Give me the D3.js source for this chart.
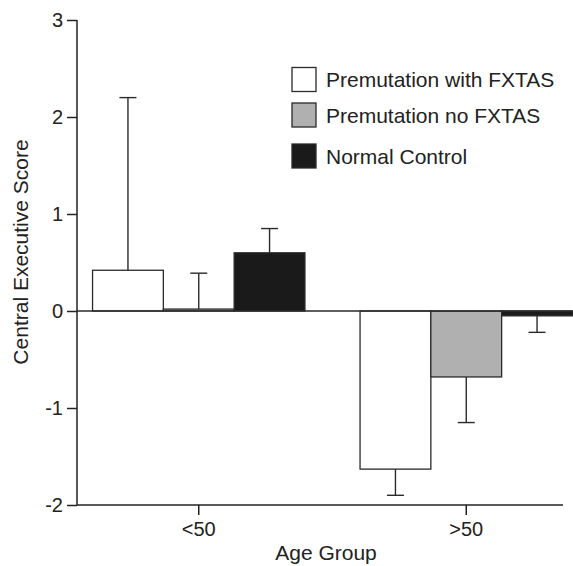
<!DOCTYPE html>
<html>
<head>
<meta charset="utf-8">
<script src="https://cdn.jsdelivr.net/npm/d3@7"></script>
<style>
  body { margin: 0; background: #fff; }
  text { font-family: "Liberation Sans", Arial, sans-serif; fill: #222; }
</style>
</head>
<body>
<div id="chart"></div>
<script>
// Data
const groups = ["<50", ">50"];
const series = ["Premutation with FXTAS", "Premutation no FXTAS", "Normal Control"];
const fills = ["#ffffff", "#b0b0b0", "#1a1a1a"];
const withFxtas = [0.42, -1.63];
const noFxtas = [0.02, -0.68];
const normalControl = [0.60, -0.05];
const withFxtasErr = [1.78, 0.27];
const noFxtasErr = [0.37, 0.47];
const normalControlErr = [0.25, 0.17];
const yTicks = [-2, -1, 0, 1, 2, 3];

const means = [withFxtas, noFxtas, normalControl];
const errs = [withFxtasErr, noFxtasErr, normalControlErr];

const width = 573;
const height = 566;

const svg = d3.select("#chart")
  .append("svg")
  .attr("width", width)
  .attr("height", height);

// Scales
const yScale = d3.scaleLinear().domain([-2, 3]).range([505, 20]);

const x0 = d3.scaleBand()
  .domain(groups)
  .range([65, 600])
  .paddingInner(0.206)
  .paddingOuter(0.103);

const x1 = d3.scaleBand()
  .domain(series)
  .range([0, x0.bandwidth()]);

const axisLeftX = 77;
const axisRightX = 563;

// Flatten to bar records
const bars = [];
groups.forEach((g, gi) => {
  series.forEach((s, si) => {
    bars.push({ group: g, series: s, si, value: means[si][gi], err: errs[si][gi] });
  });
});

// Bars
svg.append("g").selectAll("rect")
  .data(bars)
  .enter()
  .append("rect")
  .attr("x", d => x0(d.group) + x1(d.series))
  .attr("width", x1.bandwidth())
  .attr("y", d => yScale(Math.max(0, d.value)))
  .attr("height", d => Math.abs(yScale(d.value) - yScale(0)))
  .attr("fill", d => fills[d.si])
  .attr("stroke", "#2a2a2a")
  .attr("stroke-width", 1.3);

// Error bars (one-sided, away from zero)
const errG = svg.append("g").attr("stroke", "#2a2a2a").attr("stroke-width", 1.4);
bars.forEach(d => {
  const cx = x0(d.group) + x1(d.series) + x1.bandwidth() / 2;
  const tip = d.value >= 0 ? d.value + d.err : d.value - d.err;
  errG.append("line")
    .attr("x1", cx).attr("x2", cx)
    .attr("y1", yScale(d.value)).attr("y2", yScale(tip));
  errG.append("line")
    .attr("x1", cx - 8.5).attr("x2", cx + 8.5)
    .attr("y1", yScale(tip)).attr("y2", yScale(tip));
});

// Zero line
svg.append("line")
  .attr("x1", axisLeftX).attr("x2", x0.range()[1] - x0.step() * x0.paddingOuter())
  .attr("y1", yScale(0)).attr("y2", yScale(0))
  .attr("stroke", "#2a2a2a")
  .attr("stroke-width", 1.3);

// Y axis
const yAxis = d3.axisLeft(yScale).tickValues(yTicks).tickFormat(d => String(d)).tickSize(10).tickPadding(4);
const yG = svg.append("g")
  .attr("transform", `translate(${axisLeftX},0)`)
  .call(yAxis);
yG.select(".domain").attr("d", `M0,${yScale(3)}V${yScale(-2)}`).attr("stroke", "#222").attr("stroke-width", 1.5);
yG.selectAll(".tick line").attr("stroke", "#222").attr("stroke-width", 1.5);
yG.selectAll(".tick text").style("font-size", "20px").style("font-family", "Liberation Sans, Arial, sans-serif").attr("fill", "#222");

// X axis
const xAxis = d3.axisBottom(x0).tickSize(10).tickPadding(7);
const xG = svg.append("g")
  .attr("transform", `translate(0,${yScale(-2)})`)
  .call(xAxis);
xG.select(".domain").attr("d", `M${axisLeftX},0H${axisRightX}`).attr("stroke", "#222").attr("stroke-width", 1.5);
xG.selectAll(".tick line").attr("stroke", "#222").attr("stroke-width", 1.5);
xG.selectAll(".tick text").style("font-size", "20px").style("font-family", "Liberation Sans, Arial, sans-serif").attr("fill", "#222");

// Axis titles
svg.append("text")
  .attr("x", 326)
  .attr("y", 560)
  .attr("text-anchor", "middle")
  .style("font-size", "21px")
  .text("Age Group");

svg.append("text")
  .attr("transform", "translate(28,252) rotate(-90)")
  .attr("text-anchor", "middle")
  .style("font-size", "21px")
  .text("Central Executive Score");

// Legend
const legendY = [67.5, 103, 144];
const legend = svg.append("g").attr("id", "legend");
series.forEach((s, i) => {
  legend.append("rect")
    .attr("x", 292).attr("y", legendY[i])
    .attr("width", 24).attr("height", 24)
    .attr("fill", fills[i])
    .attr("stroke", "#2a2a2a")
    .attr("stroke-width", 1.3);
  legend.append("text")
    .attr("x", 326).attr("y", legendY[i] + 12)
    .attr("dominant-baseline", "central")
    .style("font-size", "21px")
    .text(s);
});
</script>
</body>
</html>
